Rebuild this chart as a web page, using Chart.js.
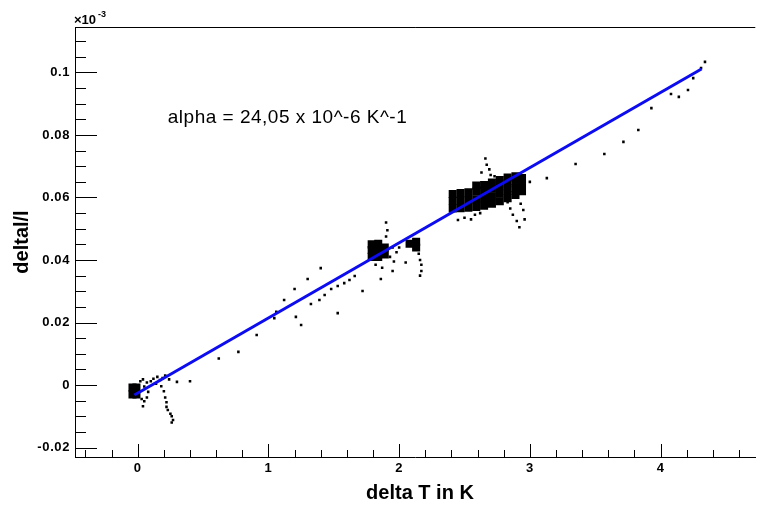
<!DOCTYPE html>
<html>
<head>
<meta charset="utf-8">
<script src="https://cdn.jsdelivr.net/npm/chart.js@4.4.1/dist/chart.umd.min.js"></script>
<style>
	html, body { margin: 0; padding: 0; background: #fff; }
	#wrap { width: 761px; height: 506px; }
</style>
</head>
<body>
<div id="wrap"><canvas id="myChart" width="761" height="506"></canvas></div>
<script>
// 축 눈금
var xTickValues = [0, 1, 2, 3, 4];
var xTickLabels = ['0', '1', '2', '3', '4'];
var yTickValues = [-0.02, 0, 0.02, 0.04, 0.06, 0.08, 0.1];
var yTickLabels = ['-0.02', '0', '0.02', '0.04', '0.06', '0.08', '0.1'];

// 직선 피팅 (alpha = 24,05 x 10^-6 K^-1)
var fitX = [-0.025, 4.313];
var fitY = [-0.0032, 0.1011];

// 측정점이 빽빽한 덩어리
var blobX = [-0.04, -0.04, -0.01, -0.01,
	1.79, 1.79, 1.79, 1.84, 1.84, 1.84, 1.89, 1.89,
	2.08, 2.13, 2.13,
	2.41, 2.41, 2.41, 2.47, 2.47, 2.47, 2.53, 2.53, 2.53,
	2.59, 2.59, 2.59, 2.59, 2.65, 2.65, 2.65, 2.65,
	2.71, 2.71, 2.71, 2.71, 2.77, 2.77, 2.77, 2.77,
	2.83, 2.83, 2.83, 2.83, 2.89, 2.89, 2.89, 2.89, 2.94, 2.94, 2.94];
var blobY = [-0.0008, -0.0030, -0.0008, -0.0030,
	0.0410, 0.0432, 0.0450, 0.0410, 0.0432, 0.0452, 0.0418, 0.0440,
	0.0452, 0.0458, 0.0440,
	0.0565, 0.0589, 0.0611, 0.0566, 0.0590, 0.0614, 0.0567, 0.0592, 0.0617,
	0.0570, 0.0594, 0.0619, 0.0638, 0.0574, 0.0598, 0.0622, 0.0640,
	0.0580, 0.0604, 0.0628, 0.0648, 0.0588, 0.0612, 0.0636, 0.0656,
	0.0598, 0.0622, 0.0646, 0.0664, 0.0608, 0.0630, 0.0652, 0.0668, 0.0620, 0.0642, 0.0662];

// 흩어진 측정점
var dotX = [0.02, 0.04, 0.05, 0.07, 0.08, 0.10, 0.12, 0.14, 0.15, 0.17, 0.18, 0.19, 0.21, 0.24,
	0.03, 0.05, 0.04, 0.07, 0.20, 0.21, 0.22, 0.22, 0.23, 0.25, 0.26, 0.27, 0.26, 0.30, 0.40,
	0.62, 0.77, 0.91, 1.045, 1.06, 1.12, 1.20, 1.21, 1.25, 1.30, 1.325, 1.39, 1.40, 1.43,
	1.48, 1.53, 1.53, 1.58, 1.62, 1.66, 1.72, 1.86, 1.95,
	1.90, 1.91, 1.90, 1.95, 1.98, 2.00, 1.93, 1.96, 2.15, 2.16, 2.17, 2.17, 2.16, 2.05, 1.82, 1.87,
	2.66, 2.67, 2.69, 2.70, 2.63, 2.73, 2.83, 2.85, 2.87, 2.90, 2.92, 2.95, 2.96, 2.93,
	2.50, 2.55, 2.58, 2.45, 2.62, 3.00, 3.13, 3.35,
	3.57, 3.716, 3.83, 3.93, 4.08, 4.14, 4.21, 4.25, 4.31, 4.34];
var dotY = [0.0012, 0.0018, -0.0005, 0.0008, -0.0022, 0.0012, 0.0020, 0.0004, 0.0026, 0.0016, -0.0004, 0.0022, 0.0030, 0.0018,
	-0.0045, -0.0052, -0.0068, -0.0040, -0.0020, -0.0040, -0.0055, -0.0070, -0.0080, -0.0092, -0.0100, -0.0112, -0.0120, 0.0010, 0.0012,
	0.0085, 0.0106, 0.0160, 0.0214, 0.0234, 0.0272, 0.0307, 0.0218, 0.0192, 0.0339, 0.0259, 0.0272, 0.0374, 0.0288,
	0.0307, 0.0317, 0.0230, 0.0326, 0.0336, 0.0349, 0.0301, 0.0339, 0.0365,
	0.0520, 0.0495, 0.0475, 0.0440, 0.0425, 0.0440, 0.0410, 0.0395, 0.0420, 0.0400, 0.0385, 0.0365, 0.0350, 0.0392, 0.0385, 0.0375,
	0.0725, 0.0705, 0.0690, 0.0672, 0.0680, 0.0668, 0.0585, 0.0565, 0.0545, 0.0525, 0.0505, 0.0560, 0.0530, 0.0580,
	0.0535, 0.0530, 0.0545, 0.0528, 0.0550, 0.0650, 0.0662, 0.0707,
	0.0739, 0.0778, 0.0816, 0.0886, 0.0931, 0.0922, 0.0944, 0.0982, 0.1014, 0.1034];

function toPoints(xs, ys) {
	var list = [];
	for (var i = 0; i < xs.length; i++) {
		list.push({ x: xs[i], y: ys[i] });
	}
	return list;
}

var fontName = '"Liberation Sans", Arial, sans-serif';

// ROOT 스타일: 안쪽 눈금, 축 제목, 주석
var rootStyle = {
	id: 'rootStyle',
	beforeDraw: function(chart) {
		chart.ctx.letterSpacing = '0.6px'; // 눈금 글자 간격
	},
	afterDraw: function(chart) {
		var c = chart.ctx;
		var area = chart.chartArea;
		var xs = chart.scales.x;
		var ys = chart.scales.y;
		var i, v, p;

		c.letterSpacing = '0px';
		c.save();
		c.strokeStyle = '#000';
		c.lineWidth = 1;

		// 위쪽 테두리
		c.beginPath();
		c.moveTo(area.left, area.top + 0.5);
		c.lineTo(area.right, area.top + 0.5);
		c.stroke();

		// x 눈금 (0.2 간격)
		c.beginPath();
		for (i = -2; i <= 23; i++) {
			v = i * 0.2;
			if (v < xs.min || v > xs.max) continue;
			p = Math.round(xs.getPixelForValue(v)) + 0.5;
			var len = (i % 5 === 0) ? 13 : 7;
			c.moveTo(p, area.bottom);
			c.lineTo(p, area.bottom - len);
		}
		c.stroke();

		// y 눈금 (0.005 간격)
		c.beginPath();
		for (i = -4; i <= 22; i++) {
			v = i * 0.005;
			if (v < ys.min || v > ys.max) continue;
			p = Math.round(ys.getPixelForValue(v)) + 0.5;
			var ylen = (i % 4 === 0) ? 22 : 11;
			c.moveTo(area.left, p);
			c.lineTo(area.left + ylen, p);
		}
		c.stroke();

		c.fillStyle = '#000';

		// x10^-3
		c.textAlign = 'left';
		c.textBaseline = 'alphabetic';
		c.font = 'bold 13px ' + fontName;
		c.fillText('\u00d710', area.left - 1, 24);
		c.font = 'bold 9px ' + fontName;
		c.fillText('-3', area.left + 23, 17);

		// 축 제목
		c.font = 'bold 20px ' + fontName;
		c.textAlign = 'center';
		c.textBaseline = 'middle';
		c.fillText('delta T in K', (area.left + 747) / 2 + 9, 493);
		c.save();
		c.translate(22, (area.top + area.bottom) / 2);
		c.rotate(-Math.PI / 2);
		c.fillText('deltal/l', 0, 0);
		c.restore();

		// 주석
		c.font = '19px ' + fontName;
		c.letterSpacing = '0.5px';
		c.textAlign = 'left';
		c.fillText('alpha = 24,05 x 10^-6 K^-1', xs.getPixelForValue(0.23), ys.getPixelForValue(0.0854));
		c.letterSpacing = '0px';

		c.restore();
	}
};

var ctx = document.getElementById('myChart').getContext('2d');
var myChart = new Chart(ctx, {
	type: 'scatter',
	data: {
		datasets: [{
			type: 'line',
			data: toPoints(fitX, fitY),
			borderColor: '#0c0cee',
			borderWidth: 3,
			pointRadius: 0,
			fill: false
		}, {
			data: toPoints(blobX, blobY),
			pointStyle: 'rect',
			pointRadius: 5.7,
			backgroundColor: '#000',
			borderWidth: 0
		}, {
			data: toPoints(dotX, dotY),
			pointStyle: 'rect',
			pointRadius: 1.8,
			backgroundColor: '#000',
			borderWidth: 0
		}]
	},
	options: {
		responsive: false,
		animation: false,
		devicePixelRatio: 1,
		layout: { padding: { top: 27, left: 0, right: 0, bottom: 0 } },
		plugins: {
			legend: { display: false },
			tooltip: { enabled: false }
		},
		scales: {
			x: {
				type: 'linear',
				min: -0.48,
				max: 4.725,
				afterBuildTicks: function(s) {
					s.ticks = xTickValues.map(function(v) { return { value: v }; });
				},
				afterFit: function(s) {
					s.height = 49;
					s.paddingLeft = 0;
					s.paddingRight = 0;
				},
				grid: { display: false, drawTicks: false },
				border: { display: true, color: '#000', width: 1 },
				ticks: {
					padding: 4,
					autoSkip: false,
					maxRotation: 0,
					color: '#000',
					font: { family: fontName, size: 13, weight: 'bold' },
					callback: function(v, i) { return xTickLabels[i]; }
				}
			},
			y: {
				type: 'linear',
				min: -0.02304,
				max: 0.11456,
				afterBuildTicks: function(s) {
					s.ticks = yTickValues.map(function(v) { return { value: v }; });
				},
				afterFit: function(s) {
					s.width = 75;
					s.paddingTop = 0;
					s.paddingBottom = 0;
				},
				grid: { display: false, drawTicks: false },
				border: { display: true, color: '#000', width: 1 },
				ticks: {
					padding: 5,
					autoSkip: false,
					color: '#000',
					font: { family: fontName, size: 13, weight: 'bold' },
					callback: function(v, i) { return yTickLabels[i]; }
				}
			}
		}
	},
	plugins: [rootStyle]
});
</script>
</body>
</html>
